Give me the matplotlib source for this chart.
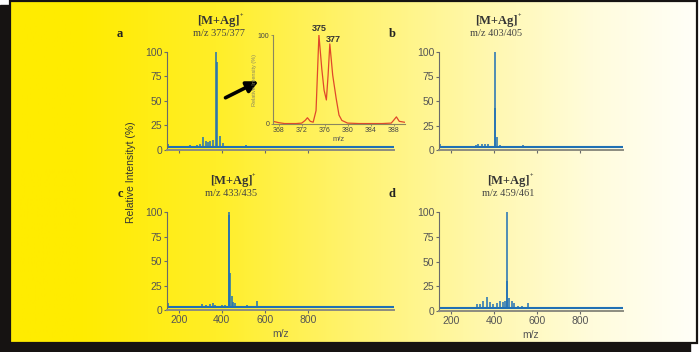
import numpy as np
import matplotlib.pyplot as plt
from matplotlib.colors import LinearSegmentedColormap
from matplotlib.patches import Rectangle

plt.rcParams['font.family'] = ['Liberation Sans', 'DejaVu Sans']

# ========== data ==========
mz_a = [151, 229, 240, 252, 262, 283, 298, 314, 326, 334, 345, 359, 375, 377, 391, 404, 415, 446, 511, 546]
int_a = [6, 4, 4, 5, 4, 5, 6, 13, 9, 8, 9, 10, 100, 90, 14, 7, 4, 3, 5, 3]

mz_b = [150, 243, 266, 280, 302, 317, 326, 344, 359, 373, 403, 405, 415, 428, 444, 460, 472, 534, 576]
int_b = [6, 4, 4, 4, 3, 5, 6, 6, 6, 6, 100, 43, 13, 5, 4, 3, 4, 5, 3]

mz_c = [148, 275, 291, 306, 326, 345, 358, 368, 384, 399, 415, 431, 433, 438, 446, 453, 461, 477, 492, 516, 565, 670, 683]
int_c = [7, 4, 4, 6, 5, 6, 7, 5, 4, 5, 5, 97, 100, 38, 14, 8, 7, 4, 4, 5, 9, 3, 3]

mz_d = [146, 289, 312, 323, 336, 351, 370, 382, 398, 413, 429, 441, 452, 459, 461, 472, 483, 494, 514,
        530, 560, 584, 599, 623, 638, 675, 692, 708, 723, 738, 816]
int_d = [7, 3, 4, 7, 7, 10, 14, 9, 7, 8, 10, 9, 10, 100, 30, 13, 10, 8, 5, 5, 8, 4, 4, 3, 3, 3, 3, 3, 4, 4, 3]

ins_mz = [367, 368, 369, 370, 371, 372, 372.6, 373, 373.5, 374, 374.5, 375, 375.5, 375.9, 376.3,
          376.6, 376.9, 377.4, 378.0, 378.5, 379, 380, 382, 384, 386, 387.6, 388.0, 388.5, 389, 389.9]
ins_int = [3, 1.5, 0.5, 0.5, 0.5, 1, 4, 7, 3, 2, 15, 100, 62, 38, 27, 55, 90, 55, 29, 10, 4, 1,
           0.5, 0.5, 0.5, 1, 4, 8, 3, 2]

panels = [
    ('a', mz_a, int_a, 'm/z 375/377', 375, (145, 1200), False),
    ('b', mz_b, int_b, 'm/z 403/405', 403, (145, 1000), False),
    ('c', mz_c, int_c, 'm/z 433/435', 433, (145, 1200), True),
    ('d', mz_d, int_d, 'm/z 459/461', 459, (145, 1000), True),
]
BASE = 3
W, H = 699, 352
BLUE = '#2070b4'

fig = plt.figure(figsize=(W / 100, H / 100), dpi=100)

# ---- background: shadow + gradient panel ----
bg = fig.add_axes([0, 0, 1, 1])
bg.set_xlim(0, W)
bg.set_ylim(H, 0)
bg.axis('off')
bg.add_patch(Rectangle((0, 5), 690, H - 5, color='#161312', zorder=0))
cmap = LinearSegmentedColormap.from_list('g', [
    (0.0, '#ffec00'), (0.1, '#ffec00'), (0.3, '#ffee28'), (0.5, '#fff370'),
    (0.7, '#fff8b0'), (0.85, '#fffcdc'), (1.0, '#fffff8')])
grad = np.linspace(0, 1, 256)[None, :]
bg.imshow(grad, cmap=cmap, extent=(10, 697, 343, 1), aspect='auto', zorder=1)
bg.add_patch(Rectangle((10, 1), 687, 342, fill=False, ec='#161312', lw=1.6, zorder=2))
bg.annotate('', xy=(261, 80), xytext=(223, 99),
            arrowprops=dict(arrowstyle='-|>', lw=2.6, color='black', mutation_scale=17))
bg.text(131, 172, 'Relative Intensityt (%)', rotation=90, ha='center', va='center',
        fontsize=7.5, color='#333333')


def px_axes(left, right, top, bottom):
    return fig.add_axes([left / W, 1 - bottom / H, (right - left) / W, (bottom - top) / H])


boxes = {'a': (167, 394, 52, 149.5), 'b': (439, 623, 52, 150),
         'c': (167, 394, 212, 310), 'd': (439, 623, 212, 311)}

for lab, mz, inten, sub, peak, xl, show_x in panels:
    l, r, t, b = boxes[lab]
    ax = px_axes(l, r, t, b)
    ax.patch.set_alpha(0)
    ax.plot(xl, [BASE, BASE], color=BLUE, lw=1.5, solid_capstyle='butt')
    ax.vlines(mz, BASE, inten, color=BLUE, lw=1.1)
    ax.set_xlim(*xl)
    ax.set_ylim(0, 100)
    ax.set_yticks([0, 25, 50, 75, 100])
    ax.set_xticks([200, 400, 600, 800])
    for s in ['top', 'right']:
        ax.spines[s].set_visible(False)
    ax.spines['left'].set_color('#6a6a6a')
    ax.spines['bottom'].set_color('#8c8c80')
    ax.spines['bottom'].set_linewidth(1.4)
    ax.tick_params(length=2.5, width=0.8, colors='#6a6a6a', labelsize=7.5,
                   labelcolor='#555555', pad=1)
    if show_x:
        ax.set_xlabel('m/z', fontsize=7.5, color='#555555', labelpad=3)
    else:
        ax.set_xticklabels([])
    # titles and panel letters
    xf = l + (peak - xl[0]) / (xl[1] - xl[0]) * (r - l)
    bg.text(xf + 2, t - 31, '[M+Ag]', ha='center', va='center', fontsize=9,
            family='Liberation Serif', weight='bold', color='#333333')
    bg.text(xf + 23, t - 36, '+', ha='left', va='center', fontsize=4.5,
            family='Liberation Serif', weight='bold', color='#333333')
    bg.text(xf + 2, t - 18, sub, ha='center', va='center', fontsize=7.5,
            family='Liberation Serif', color='#444444')
    bg.text(l - 47, t - 18, lab, ha='center', va='center', fontsize=9,
            family='Liberation Serif', weight='bold', color='#222222')

# ---- inset ----
ins = px_axes(273, 405, 35, 124)
ins.patch.set_alpha(0)
ins.plot(ins_mz, ins_int, color='#e0482a', lw=0.9)
ins.set_xlim(367, 390)
ins.set_ylim(0, 100)
ins.set_xticks([368, 372, 376, 380, 384, 388])
ins.set_yticks([0, 100])
for s in ['top', 'right']:
    ins.spines[s].set_visible(False)
for s in ['left', 'bottom']:
    ins.spines[s].set_color('#8a8660')
    ins.spines[s].set_linewidth(0.8)
ins.tick_params(length=1.5, width=0.6, colors='#8a8660', labelsize=5, labelcolor='#444444', pad=1)
ins.set_xlabel('m/z', fontsize=5.5, color='#555555', labelpad=1)
ins.set_ylabel('Relative Intensity (%)', fontsize=4, color='#8a8660', labelpad=1)
ins.text(375, 102, '375', ha='center', va='bottom', fontsize=6.5, weight='bold', color='#333333')
ins.text(377.6, 90, '377', ha='center', va='bottom', fontsize=6.5, weight='bold', color='#333333')

fig.savefig('out.png', dpi=100)
